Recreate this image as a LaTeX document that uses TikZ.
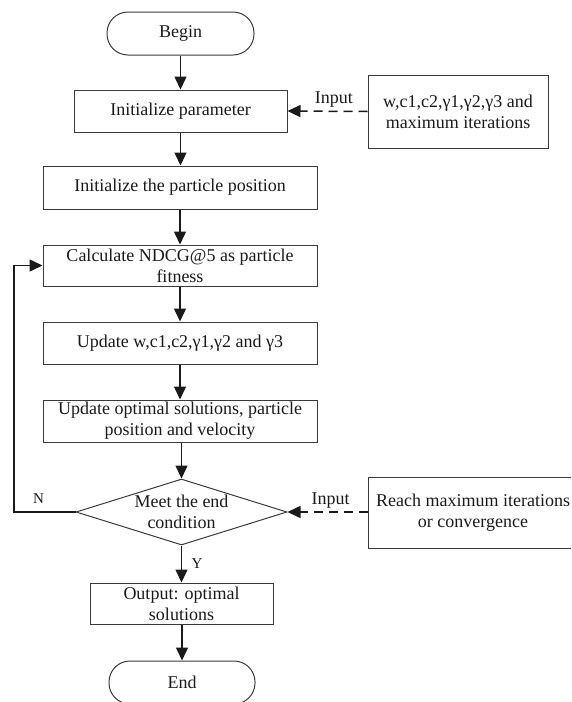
\documentclass[tikz,border=0pt]{standalone}
\usepackage{fontspec}
\setmainfont{Liberation Serif}
\usepackage{tikz}
\usetikzlibrary{arrows.meta,shapes.geometric}
\definecolor{ink}{HTML}{1A1A1A}
\definecolor{edge}{HTML}{3A3A3A}
\tikzset{
  lab/.style={text=ink, font=\fontsize{18}{21}\selectfont, align=center},
  tag/.style={text=ink, font=\fontsize{15}{18}\selectfont},
  procBox/.style={lab, draw=edge, line width=1pt, rectangle, inner sep=0pt},
  termBox/.style={procBox, rounded corners=21pt},
  flow/.style={draw=ink, line width=1.5pt, -{Triangle[width=12pt,length=13pt]}},
  feed/.style={flow, dash pattern=on 9pt off 6pt}
}

\begin{document}
\begin{tikzpicture}[x=1pt,y=-1pt]
\clip (0,0) rectangle (571,702);
% main column
\node[termBox, minimum width=147pt, minimum height=43pt] (begin) at (180.5,33.5) {Begin};
\node[procBox, minimum width=213pt, minimum height=42pt] (init) at (180.5,111) {Initialize parameter};
\node[procBox, minimum width=274pt, minimum height=43pt] (pos) at (180,187.5) {Initialize the particle position};
\node[procBox, minimum width=274pt, minimum height=41pt] (fit) at (180,265.5) {Calculate NDCG@5 as particle\\fitness};
\node[procBox, minimum width=274pt, minimum height=42pt] (upd) at (180,343) {Update w,c1,c2,γ1,γ2 and γ3};
\node[procBox, minimum width=274pt, minimum height=42pt] (opt) at (180,421) {Update optimal solutions, particle\\position and velocity};
\node[diamond, draw=edge, line width=1pt, inner sep=0pt, minimum width=211pt, minimum height=66pt] (cond) at (181.5,512) {};
\node[lab] (condtext) at (cond.center) {Meet the end\\condition};
\node[procBox, minimum width=183pt, minimum height=41pt] (out) at (181.5,603.5) {Output: optimal\\solutions};
\node[termBox, minimum width=146pt, minimum height=43pt] (end) at (182,682.5) {End};

% inputs
\node[procBox, minimum width=180pt, minimum height=73pt] (inp1) at (458,111.5) {w,c1,c2,γ1,γ2,γ3 and\\maximum iterations};
\node[procBox, minimum width=210pt, minimum height=71pt] (inp2) at (473,512.5) {Reach maximum iterations\\or convergence};

% arrows
\draw[flow] (begin) -- (init);
\draw[flow] (init) -- (init.south |- pos.north);
\draw[flow] (pos) -- (fit);
\draw[flow] (fit) -- (upd);
\draw[flow] (upd) -- (opt);
\draw[flow] (opt.south -| cond.north) -- (cond.north);
\draw[flow] (cond.south) -- node[tag, right, xshift=6pt] {Y} (cond.south |- out.north);
\draw[flow] (out.south -| end.north) -- (end.north);
\draw[feed] (inp1.west) -- node[lab, above, pos=0.42] {Input} (init.east);
\draw[feed] (inp2.west |- cond.east) -- node[lab, above, pos=0.46] {Input} (cond.east);

% loop back
\coordinate (back) at (14,512);
\draw[flow] (cond.west) -- node[tag, above, pos=0.6, yshift=4pt] {N} (back) |- (fit.west);
\end{tikzpicture}
\end{document}
